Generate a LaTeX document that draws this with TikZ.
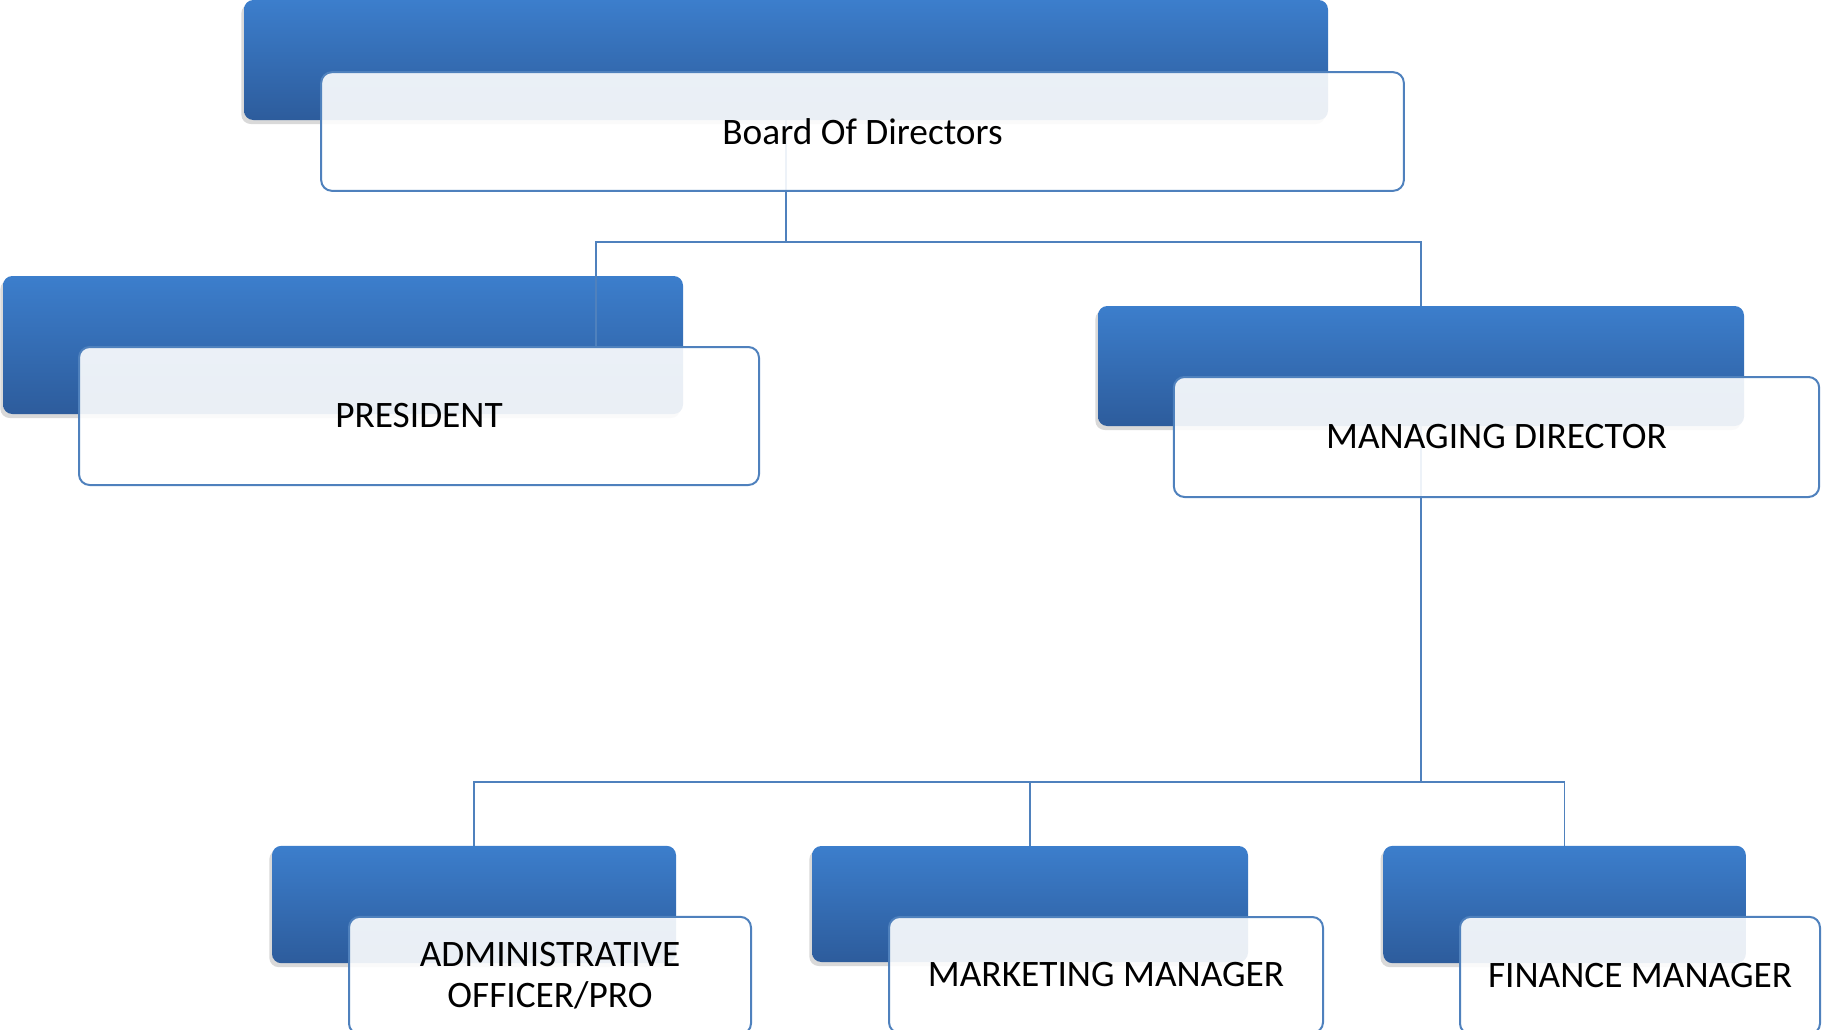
\documentclass[tikz,border=0pt]{standalone}
\usepackage{fontspec}
\setmainfont{Carlito}
\usetikzlibrary{shadows}

\pgfdeclarelayer{back}
\pgfdeclarelayer{lines}
\pgfsetlayers{back,lines,main}

\definecolor{boxtop}{RGB}{60,126,204}
\definecolor{boxbot}{RGB}{45,92,156}
\definecolor{edgeblue}{RGB}{79,129,189}

\tikzset{every picture/.style={line width=0.75pt}}
\tikzset{
  bluebox/.style={rounded corners=7pt, top color=boxtop, bottom color=boxbot, inner sep=0pt,
    drop shadow={shadow xshift=-2pt, shadow yshift=-3pt, opacity=0.3}},
  namebox/.style={draw=edgeblue, line width=1.5pt, rounded corners=8pt, fill=white, fill opacity=0.9,
    text opacity=1, inner sep=0pt, align=center, font=\fontsize{28}{31}\selectfont},
  link/.style={draw=edgeblue, line width=1.1pt}
}

\begin{document}
\begin{tikzpicture}[x=0.75pt,y=0.75pt,yscale=-1,xscale=1]
\useasboundingbox (0,0) rectangle (1825,1029);

% Board
\node [bluebox, minimum width=813pt, minimum height=90pt] (brdb) at (786,60) {};
\node [namebox, minimum width=812pt, minimum height=89pt] (brdw) at (862.5,131.5) {Board Of Directors};

% President
\begin{pgfonlayer}{back}
\node [bluebox, minimum width=510pt, minimum height=103.5pt] (presb) at (343,345) {};
\end{pgfonlayer}
\node [namebox, minimum width=510pt, minimum height=103.5pt] (presw) at (419,416) {PRESIDENT};

% Managing director
\node [bluebox, minimum width=484.5pt, minimum height=90pt] (mdb) at (1421,366) {};
\node [namebox, minimum width=484pt, minimum height=90pt] (mdw) at (1496.5,437) {MANAGING DIRECTOR};

% Bottom row
\node [bluebox, minimum width=303pt, minimum height=88pt] (admb) at (474,904.5) {};
\node [namebox, minimum width=301.5pt, minimum height=88pt] (admw) at (550,975.5) {ADMINISTRATIVE\\OFFICER/PRO};

\node [bluebox, minimum width=327pt, minimum height=87pt] (mktb) at (1030,904) {};
\node [namebox, minimum width=325.5pt, minimum height=87pt] (mktw) at (1106,975) {MARKETING MANAGER};

\node [bluebox, minimum width=272pt, minimum height=88pt] (finb) at (1564.5,904.5) {};
\node [namebox, minimum width=270pt, minimum height=88pt] (finw) at (1640,975.5) {FINANCE MANAGER};

% Connectors
\coordinate (jtop) at (786,242);
\coordinate (pjoin) at (596,242);
\coordinate (jbot) at (1421,782);

\begin{pgfonlayer}{lines}
\draw [link] (brdb.center) -- (jtop);
\draw [link] (presw.north -| pjoin) -- (pjoin) -| (mdb.north);
\draw [link] (mdb.center) -- (jbot);
\draw [link] (admb.north) |- (finb.north |- jbot) -- (finb.north);
\draw [link] (mktb.north) -- (mktb.north |- jbot);
\end{pgfonlayer}

\end{tikzpicture}
\end{document}
